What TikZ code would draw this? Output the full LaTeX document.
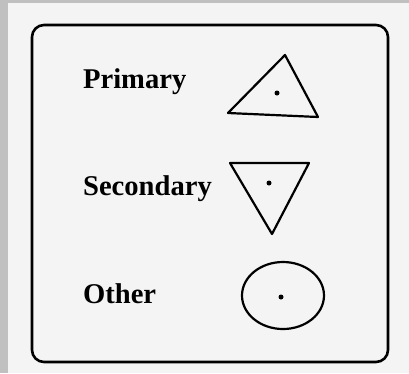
\documentclass[tikz,border=0pt]{standalone}
\usepackage{fontspec}
\setmainfont{Liberation Serif}
\usetikzlibrary{positioning}
\definecolor{panelbg}{HTML}{F4F4F4}
\definecolor{stripgray}{HTML}{C0C0C0}

\begin{document}
\begin{tikzpicture}[x=1pt, y=-1pt, line width=2.2pt, line join=round,
  legendtext/.style={anchor=base west, inner sep=0pt, font=\fontsize{28.6}{30}\selectfont\bfseries},
  centredot/.style={fill, circle, inner sep=0pt, minimum size=5pt}]
  % window background and grey strips
  \fill[stripgray] (0,0) rectangle (409,373);
  \fill[panelbg] (8,3) rectangle (409,373);
  \useasboundingbox (0,0) rectangle (409,373);
  % legend frame
  \draw[line width=2.6pt, rounded corners=12pt] (32,25) rectangle (388,362);
  % labels
  \node[legendtext] (prim) at (82,88) {Primary};
  \node[legendtext] (sec) at (82,195) {Secondary};
  \node[legendtext] (oth) at (82,303) {Other};
  % symbols
  \draw (285,55) -- (228,113) -- (318,117) -- cycle;
  \node[centredot] (primdot) at (277,93) {};
  \draw (230,163) -- (309,163) -- (272,234) -- cycle;
  \node[centredot] (secdot) at (269,183) {};
  \draw (283,295.5) ellipse [x radius=41, y radius=33.5];
  \node[centredot] (othdot) at (281,297) {};
\end{tikzpicture}
\end{document}
